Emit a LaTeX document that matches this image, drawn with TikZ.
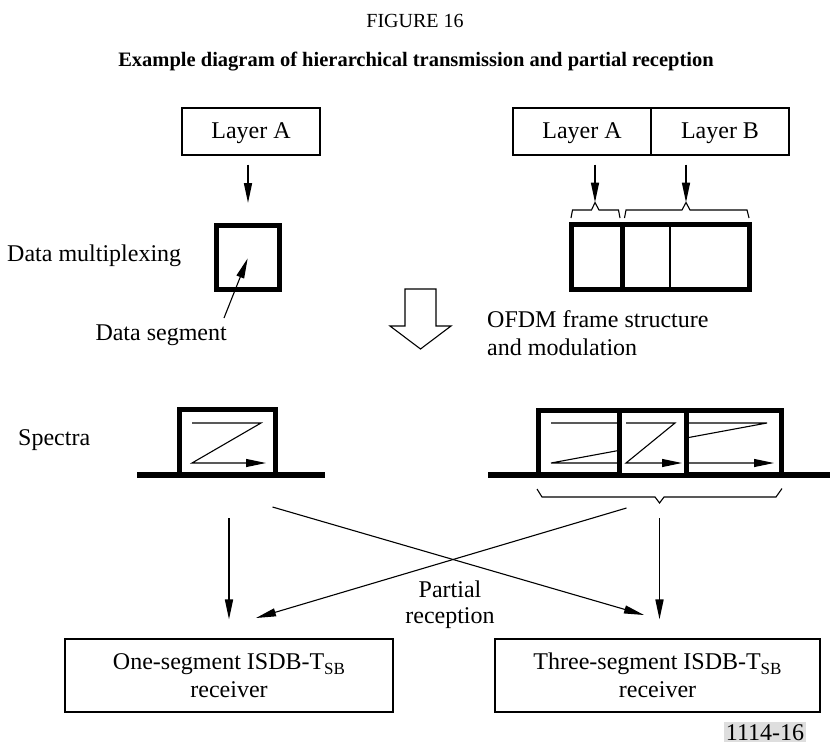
\documentclass[tikz,border=0pt]{standalone}
\usepackage{fontspec}
\setmainfont{Liberation Serif}
\usetikzlibrary{arrows.meta}
\newcommand{\subSB}{\raisebox{-5pt}{\fontsize{17}{17}\selectfont SB}}
\begin{document}
\begin{tikzpicture}[x=1pt,y=-1pt,
  every node/.style={font=\fontsize{24}{28}\selectfont, inner sep=0pt},
  box/.style={draw, line width=1.1pt, text height=15pt, text depth=2pt},
  rxbox/.style={draw, line width=1.1pt, align=center},
  arr/.style={line width=1.6pt, -{Triangle[length=20pt,width=8pt]}},
  thinarr/.style={line width=1.1pt, -{Triangle[length=20pt,width=8pt]}},
  heavy/.style={line width=5pt},
  thinline/.style={line width=1.1pt}]
\useasboundingbox (0,0) rectangle (830,747);

% titles
\node[anchor=base, font=\fontsize{20}{24}\selectfont] (fig) at (415,27) {FIGURE 16};
\node[anchor=base, font=\bfseries\fontsize{20.5}{24}\selectfont] (title) at (416,66) {Example diagram of hierarchical transmission and partial reception};

% left top
\node[box, minimum width=138pt, minimum height=47pt] (la1) at (251,131.5) {Layer A};
\node[draw, line width=5pt, minimum width=63pt, minimum height=64pt] (dm) at (248,257.5) {};
\draw[arr, shorten <=9pt, shorten >=20pt] (la1.south -| dm) -- (dm.north);
\node[anchor=base west] (dmx) at (7,261) {Data multiplexing};
\node[anchor=base east] (ds) at (227,340) {Data segment};
\coordinate (dst) at (224,318);
\draw[thinarr, shorten >=1pt] (dst) -- (dm.center);

% right top
\node[box, minimum width=138pt, minimum height=47pt] (la2) at (582,131.5) {Layer A};
\node[box, minimum width=138pt, minimum height=47pt] (lb2) at (720,131.5) {Layer B};
\coordinate (bA) at (595,202.5);
\coordinate (bB) at (686,202.5);
\draw[arr, shorten <=9pt] (bA |- la2.south) -- (bA);
\draw[arr, shorten <=9pt] (bB |- lb2.south) -- (bB);
\draw[thinline] (571,218) -- (572.5,210) -- (591.5,210) -- (bA) -- (599,210) -- (618.5,210) -- (620,218);
\draw[thinline] (624.5,218) -- (626,210) -- (682,210) -- (bB) -- (690,210) -- (747,210) -- (749,218);
\node[draw, line width=5pt, minimum width=178pt, minimum height=65pt] (ofdm) at (660.5,257) {};
\draw[heavy] (622.5,224.5) -- (622.5,289.5);
\draw[line width=1.5pt] (670,224.5) -- (670,289.5);
\node[anchor=north west, align=left] (ofdmt) at (487,310) {OFDM frame structure\\and modulation};

% hollow arrow
\draw[thinline, line join=miter] (405,289) -- (436,289) -- (436,326) -- (451,326) -- (420.5,349) -- (390,326) -- (405,326) -- cycle;

% spectra
\node[anchor=base west] (spec) at (18,445) {Spectra};
\draw[line width=6pt] (137,475) -- (325,475);
\draw[heavy, line join=miter] (179.5,472) -- (179.5,409.5) -- (275.5,409.5) -- (275.5,472);
\draw[thinarr] (192,423) -- (261,423) -- (192,463) -- (266,463);

\draw[line width=6pt] (488,475) -- (830,475);
\draw[thinarr] (551,423) -- (767,423) -- (551,463) -- (774,463);
\fill[white] (622,412.5) rectangle (684,472.5);
\draw[thinarr] (626,423) -- (675,423) -- (626,463) -- (682,463);
\draw[heavy, line join=miter] (538.5,472) -- (538.5,410) -- (781.5,410) -- (781.5,472);
\draw[heavy] (619.5,410) -- (619.5,472);
\draw[heavy] (686.5,410) -- (686.5,472);
\coordinate (bS) at (659.5,503);
\draw[thinline] (537,489) -- (542,497) -- (655,497) -- (bS) -- (664,497) -- (776,497) -- (782,488.5);

% receivers
\node[rxbox, minimum width=328pt, minimum height=73pt] (rx1) at (229,675.5) {One-segment ISDB-T\subSB\\receiver};
\node[rxbox, minimum width=325pt, minimum height=73pt] (rx3) at (657.5,675.5) {Three-segment ISDB-T\subSB\\receiver};
\coordinate (v1) at (229,518);
\coordinate (v3) at (659.5,518);
\draw[arr, shorten >=19pt] (v1) -- (rx1.north);
\draw[arr, shorten >=19pt] (v3) -- (v3 |- rx3.north);
\coordinate (d1s) at (272.5,507);
\coordinate (d1e) at (644,615);
\coordinate (d2s) at (626.5,508);
\coordinate (d2e) at (256,618);
\draw[thinarr] (d1s) -- (d1e);
\draw[thinarr] (d2s) -- (d2e);
\node[anchor=north, align=center, font=\fontsize{24}{26}\selectfont] (pr) at (450,580.6) {Partial\\reception};

\node[anchor=base, fill=black!13, inner sep=2pt] (num) at (765,740) {1114-16};
\end{tikzpicture}
\end{document}
